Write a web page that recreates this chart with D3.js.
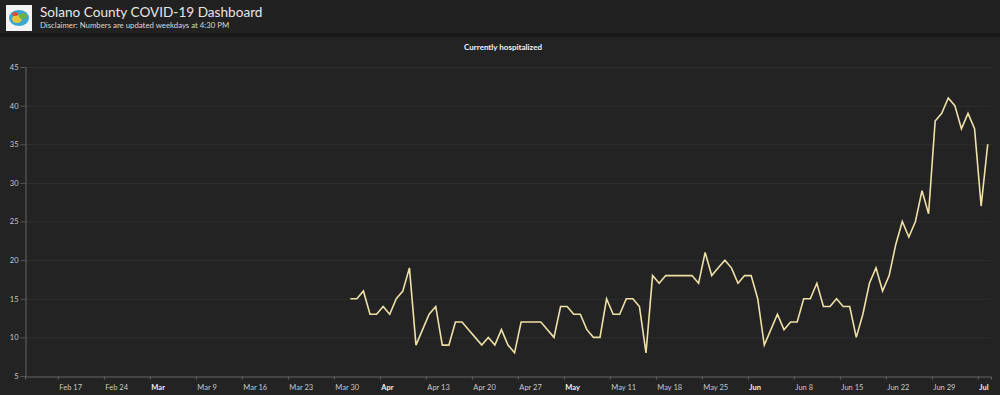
<!DOCTYPE html>
<html>
<head>
<meta charset="utf-8">
<script src="https://cdn.jsdelivr.net/npm/d3@7"></script>
<style>
  html, body { margin: 0; padding: 0; background: #232323; }
  svg { display: block; font-family: Lato, "Open Sans", sans-serif; }
</style>
</head>
<body>
<div id="chart-area"></div>
<script>
const W = 1000
const H = 395
const MARGIN = { LEFT: 25, RIGHT: 9, TOP: 67, BOTTOM: 19 }

// data: daily count of hospitalized patients, starting Apr 1 2020
const firstDay = new Date(2020, 3, 1)
const hospitalized = [
  15, 15, 16, 13, 13, 14, 13, 15, 16, 19,
  9, 11, 13, 14, 9, 9, 12, 12, 11, 10,
  9, 10, 9, 11, 9, 8, 12, 12, 12, 12,
  11, 10, 14, 14, 13, 13, 11, 10, 10, 15,
  13, 13, 15, 15, 14, 8, 18, 17, 18, 18,
  18, 18, 18, 17, 21, 18, 19, 20, 19, 17,
  18, 18, 15, 9, 11, 13, 11, 12, 12, 15,
  15, 17, 14, 14, 15, 14, 14, 10, 13, 17,
  19, 16, 18, 22, 25, 23, 25, 29, 26, 38,
  39, 41, 40, 37, 39, 37, 27, 35
]
const yTicks = [5, 10, 15, 20, 25, 30, 35, 40, 45]
const xDomain = [new Date(2020, 1, 12), new Date(2020, 6, 8)]

const dates = d3.timeDay.range(firstDay, d3.timeDay.offset(firstDay, hospitalized.length))
const data = dates.map((d, i) => ({ date: d3.timeHour.offset(d, 12), value: hospitalized[i] }))

const svg = d3.select("#chart-area").append("svg")
  .attr("width", W)
  .attr("height", H)

// header
svg.append("rect").attr("width", W).attr("height", 33).attr("fill", "#212121")
svg.append("rect").attr("y", 33).attr("width", W).attr("height", 4).attr("fill", "#181818")

// logo (simplified)
const logo = svg.append("g").attr("transform", "translate(6,5)")
logo.append("rect").attr("width", 26).attr("height", 26).attr("fill", "#f4f4f4")
logo.append("ellipse").attr("cx", 13).attr("cy", 13).attr("rx", 10).attr("ry", 8).attr("fill", "#3aa7d6")
logo.append("ellipse").attr("cx", 11).attr("cy", 14).attr("rx", 5).attr("ry", 4).attr("fill", "#e3c43a")
logo.append("ellipse").attr("cx", 17).attr("cy", 11).attr("rx", 4).attr("ry", 3).attr("fill", "#6cb04a")
logo.append("ellipse").attr("cx", 9).attr("cy", 9).attr("rx", 3).attr("ry", 2).attr("fill", "#d6533a")

svg.append("text")
  .attr("x", 40).attr("y", 16.5)
  .attr("font-size", "13.6px")
  .attr("fill", "#e6e6e6")
  .text("Solano County COVID-19 Dashboard")
svg.append("text")
  .attr("x", 40).attr("y", 28)
  .attr("font-size", "7.8px")
  .attr("fill", "#d8d8d8")
  .text("Disclaimer: Numbers are updated weekdays at 4:30 PM")

// chart title
svg.append("text")
  .attr("x", 503).attr("y", 50)
  .attr("text-anchor", "middle")
  .attr("font-size", "8px")
  .attr("font-weight", "bold")
  .attr("fill", "#f2f2f2")
  .text("Currently hospitalized")

// scales
const x = d3.scaleTime()
  .domain(xDomain)
  .range([MARGIN.LEFT, W - MARGIN.RIGHT])
const y = d3.scaleLinear()
  .domain([5, 45])
  .range([H - MARGIN.BOTTOM, MARGIN.TOP])

// gridlines
svg.append("g")
  .selectAll("line")
  .data(yTicks.slice(1))
  .enter().append("line")
    .attr("x1", MARGIN.LEFT)
    .attr("x2", W - MARGIN.RIGHT)
    .attr("y1", d => y(d) + 0.5)
    .attr("y2", d => y(d) + 0.5)
    .attr("stroke", "#2f2f2f")
    .attr("stroke-width", 1)

// Y axis
const yAxis = svg.append("g")
  .attr("transform", `translate(${MARGIN.LEFT + 0.5}, 0)`)
  .call(d3.axisLeft(y).tickValues(yTicks).tickSize(5).tickPadding(2))
yAxis.select(".domain").attr("stroke", "#666")
yAxis.selectAll(".tick line").attr("stroke", "#555")
yAxis.selectAll("text")
  .attr("fill", "#c8c8c8")
  .attr("font-size", "7.5px")
  .attr("font-family", "Lato, sans-serif")

// X axis
const monthFmt = d3.timeFormat("%b")
const dayFmt = d3.timeFormat("%b %-d")
const xAxis = svg.append("g")
  .attr("transform", `translate(0, ${H - MARGIN.BOTTOM + 0.5})`)
  .call(d3.axisBottom(x)
    .ticks(d3.timeMonday.every(1))
    .tickSize(3)
    .tickFormat(d => d.getDate() <= 7 ? monthFmt(d) : dayFmt(d)))
xAxis.select(".domain").attr("stroke", "#666")
xAxis.selectAll(".tick line").attr("stroke", "#666")
xAxis.selectAll("text")
  .attr("text-anchor", "start")
  .attr("dx", "1px")
  .attr("y", 8)
  .attr("font-size", "7.5px")
  .attr("font-family", "Lato, sans-serif")
  .attr("font-weight", d => d.getDate() <= 7 ? "bold" : "normal")
  .attr("fill", d => d.getDate() <= 7 ? "#f0f0f0" : "#c8c8c8")

// line
const line = d3.line()
  .x(d => x(d.date))
  .y(d => y(d.value))

svg.append("path")
  .datum(data)
  .attr("fill", "none")
  .attr("stroke", "#efe0a6")
  .attr("stroke-width", 1.6)
  .attr("stroke-linejoin", "miter")
  .attr("d", line)
</script>
</body>
</html>
